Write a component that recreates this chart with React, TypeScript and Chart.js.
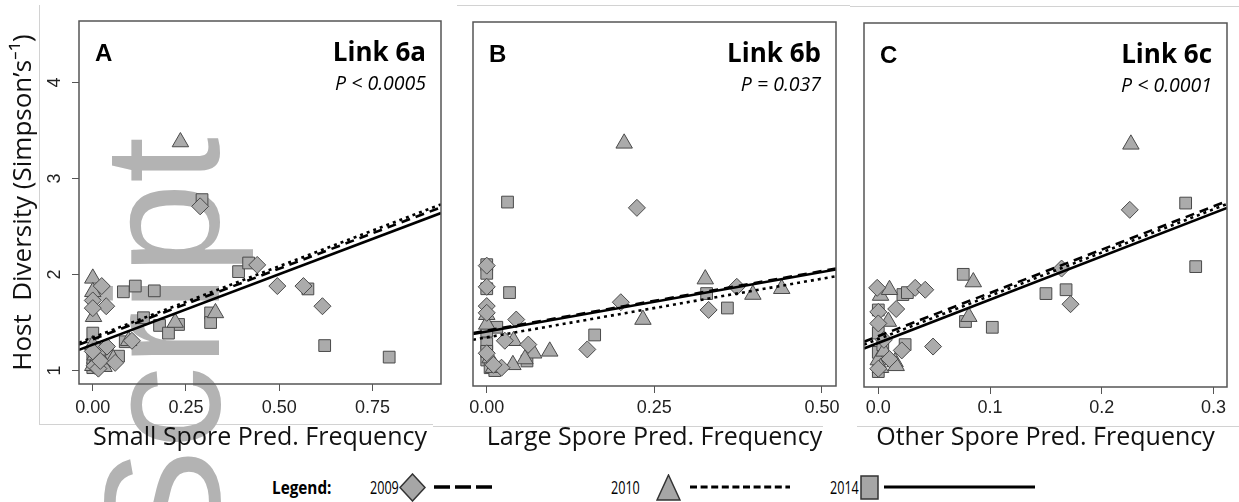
import React, { useEffect, useRef } from "react";
import { Chart, registerables } from "chart.js";

Chart.register(...registerables);

// ---------------- data ----------------
const yTicks = [1, 2, 3, 4];
const yTickLabels = ["1", "2", "3", "4"];
const yMin = 0.86;
const yMax = 4.64;

// Panel A — small spore
const xTicksA = [0, 0.25, 0.5, 0.75];
const xTickLabelsA = ["0.00", "0.25", "0.50", "0.75"];
const xRangeA = [-0.037, 0.934];
const aDiamondX = [0.288, 0.441, 0.495, 0.565, 0.616, 0.024, 0.036, 0.0, 0.0, 0.105, 0.038, 0.005, 0.015, 0.02, 0.06, 0.0];
const aDiamondY = [2.71, 2.1, 1.88, 1.88, 1.67, 1.88, 1.67, 1.73, 1.65, 1.31, 1.25, 1.05, 1.02, 1.1, 1.08, 1.2];
const aTriangleX = [0.235, 0.329, 0.221, 0.0, 0.0, 0.002, 0.006, 0.047, 0.028, 0.0, 0.03, 0.055, 0.0, 0.014, 0.096];
const aTriangleY = [3.38, 1.6, 1.5, 1.96, 1.82, 1.56, 1.16, 1.16, 1.09, 1.05, 1.04, 1.12, 1.27, 1.21, 1.31];
const aSquareX = [0.293, 0.391, 0.418, 0.577, 0.622, 0.795, 0.316, 0.316, 0.23, 0.179, 0.203, 0.082, 0.114, 0.165, 0.0, 0.136, 0.087, 0.069, 0.0, 0.02, 0.0, 0.01];
const aSquareY = [2.78, 2.03, 2.12, 1.85, 1.26, 1.14, 1.6, 1.5, 1.48, 1.47, 1.39, 1.82, 1.88, 1.83, 1.39, 1.55, 1.3, 1.15, 1.03, 1.06, 1.13, 1.22];
const aLine2009 = [1.27, 2.7];
const aLine2010 = [1.29, 2.73];
const aLine2014 = [1.215, 2.64];

// Panel B — large spore
const xTicksB = [0, 0.25, 0.5];
const xTickLabelsB = ["0.00", "0.25", "0.50"];
const xRangeB = [-0.0205, 0.521];
const bDiamondX = [0.224, 0.0, 0.0, 0.0, 0.0, 0.044, 0.027, 0.062, 0.022, 0.15, 0.2, 0.331, 0.373, 0.01, 0.0];
const bDiamondY = [2.71, 2.11, 1.89, 1.69, 1.62, 1.55, 1.33, 1.29, 1.05, 1.24, 1.73, 1.65, 1.89, 1.08, 1.2];
const bTriangleX = [0.205, 0.0, 0.0, 0.04, 0.005, 0.07, 0.057, 0.039, 0.094, 0.233, 0.326, 0.397, 0.44, 0.01];
const bTriangleY = [3.38, 1.6, 1.5, 1.33, 1.15, 1.2, 1.14, 1.08, 1.22, 1.55, 1.97, 1.81, 1.87, 1.05];
const bSquareX = [0.031, 0.0, 0.0, 0.0, 0.034, 0.015, 0.0, 0.0, 0.0, 0.005, 0.161, 0.328, 0.359, 0.06, 0.012, 0.0];
const bSquareY = [2.77, 2.12, 2.03, 1.87, 1.83, 1.47, 1.43, 1.3, 1.13, 1.05, 1.39, 1.82, 1.67, 1.12, 1.02, 1.22];
const bLine2009 = [1.41, 2.08];
const bLine2010 = [1.34, 2.0];
const bLine2014 = [1.4, 2.07];

// Panel C — other spore
const xTicksC = [0, 0.1, 0.2, 0.3];
const xTickLabelsC = ["0.0", "0.1", "0.2", "0.3"];
const xRangeC = [-0.0128, 0.312];
const cDiamondX = [0.225, 0.164, 0.172, 0.049, -0.001, 0.033, 0.042, 0.0, 0.016, 0.0, 0.021, 0.0, 0.005, 0.01];
const cDiamondY = [2.7, 2.09, 1.72, 1.28, 1.89, 1.89, 1.87, 1.64, 1.67, 1.52, 1.24, 1.05, 1.35, 1.15];
const cTriangleX = [0.226, 0.085, 0.081, 0.002, 0.01, 0.009, 0.015, 0.016, 0.0, 0.005, 0.002];
const cTriangleY = [3.38, 1.95, 1.59, 1.81, 1.87, 1.54, 1.12, 1.08, 1.14, 1.23, 1.06];
const cSquareX = [0.275, 0.284, 0.076, 0.15, 0.168, 0.078, 0.102, 0.022, 0.026, 0.0, 0.0, 0.024, 0.0, 0.0, 0.004];
const cSquareY = [2.77, 2.11, 2.03, 1.83, 1.87, 1.54, 1.48, 1.82, 1.84, 1.66, 1.42, 1.3, 1.22, 1.02, 1.3];
const cLine2009 = [1.33, 2.79];
const cLine2010 = [1.3, 2.76];
const cLine2014 = [1.26, 2.72];

const yAxisTitle = "Host  Diversity (Simpson\u2019s\u207B\u00B9)";
const xTitles = ["Small Spore Pred. Frequency", "Large Spore Pred. Frequency", "Other Spore Pred. Frequency"];
const panelLetters = ["A", "B", "C"];
const panelLinks = ["Link 6a", "Link 6b", "Link 6c"];
const panelPvals = ["P < 0.0005", "P = 0.037", "P < 0.0001"];
const legendYears = ["2009", "2010", "2014"];

// ---------------- styling / layout ----------------
const MARK_FILL = "#ababab";
const MARK_EDGE = "#4a4a4a";
const TICK_FONT = "'Liberation Sans', Arial, sans-serif";
const TITLE_FONT = "'Open Sans', sans-serif";
const CANVAS_H = 460;
const X_AXIS_BOTTOM = 455;

type PanelDef = {
  cx: number; cw: number;
  area: { l: number; t: number; r: number; b: number };
  xRange: number[]; xTicks: number[]; xLabels: string[];
  diamonds: [number[], number[]]; triangles: [number[], number[]]; squares: [number[], number[]];
  lines: number[][];
  showY: boolean;
  idx: number;
};

const panels: PanelDef[] = [
  { cx: 0, cw: 460, area: { l: 79, t: 21, r: 441, b: 384 }, xRange: xRangeA, xTicks: xTicksA, xLabels: xTickLabelsA,
    diamonds: [aDiamondX, aDiamondY], triangles: [aTriangleX, aTriangleY], squares: [aSquareX, aSquareY],
    lines: [aLine2009, aLine2010, aLine2014], showY: true, idx: 0 },
  { cx: 450, cw: 400, area: { l: 473, t: 22, r: 836, b: 386 }, xRange: xRangeB, xTicks: xTicksB, xLabels: xTickLabelsB,
    diamonds: [bDiamondX, bDiamondY], triangles: [bTriangleX, bTriangleY], squares: [bSquareX, bSquareY],
    lines: [bLine2009, bLine2010, bLine2014], showY: false, idx: 1 },
  { cx: 850, cw: 389, area: { l: 864, t: 23, r: 1227, b: 387 }, xRange: xRangeC, xTicks: xTicksC, xLabels: xTickLabelsC,
    diamonds: [cDiamondX, cDiamondY], triangles: [cTriangleX, cTriangleY], squares: [cSquareX, cSquareY],
    lines: [cLine2009, cLine2010, cLine2014], showY: false, idx: 2 },
];

const pts = (xs: number[], ys: number[]) => xs.map((x, i) => ({ x, y: ys[i] }));

function Panel({ p }: { p: PanelDef }) {
  const ref = useRef<HTMLCanvasElement>(null);
  useEffect(() => {
    if (!ref.current) return;
    const a = p.area;
    const padLeft = p.showY ? 0 : a.l - p.cx;
    const yAxisW = p.showY ? a.l - p.cx : 0;
    const padRight = p.cx + p.cw - a.r;
    const padBottom = CANVAS_H - X_AXIS_BOTTOM;
    const xAxisH = X_AXIS_BOTTOM - a.b;
    const tickPad = 390.5 - a.b;

    const lineDs = (vals: number[], dash: number[]) => ({
      type: "line" as const,
      data: pts(p.xRange, vals),
      showLine: true,
      borderColor: "#000",
      borderWidth: 2.6,
      borderDash: dash,
      pointRadius: 0,
      fill: false,
    });
    const markDs = (d: [number[], number[]], style: string, r: number) => ({
      type: "scatter" as const,
      data: pts(d[0], d[1]),
      pointStyle: style,
      pointRadius: r,
      backgroundColor: MARK_FILL,
      borderColor: MARK_EDGE,
      borderWidth: 1,
    });

    const framePlugin = {
      id: "frame",
      afterDatasetsDraw(chart: any) {
        const { ctx, chartArea: c } = chart;
        ctx.save();
        ctx.strokeStyle = "#555";
        ctx.lineWidth = 1.5;
        ctx.strokeRect(c.left, c.top, c.right - c.left, c.bottom - c.top);
        ctx.restore();
      },
    };
    // rotated (R-style) y tick labels, placed with the y scale
    const yLabelPlugin = {
      id: "yLabels",
      afterDraw(chart: any) {
        if (!p.showY) return;
        const s = chart.scales.y;
        const ctx = chart.ctx;
        ctx.save();
        ctx.font = "18px 'Liberation Sans', Arial, sans-serif";
        ctx.fillStyle = "#222";
        ctx.textAlign = "center";
        ctx.textBaseline = "middle";
        yTicks.forEach((v, i) => {
          ctx.save();
          ctx.translate(s.right - 24, s.getPixelForValue(v));
          ctx.rotate(-Math.PI / 2);
          ctx.fillText(yTickLabels[i], 0, 0);
          ctx.restore();
        });
        ctx.restore();
      },
    };
    const textPlugin = {
      id: "panelText",
      afterDraw(chart: any) {
        const { ctx, chartArea: c } = chart;
        ctx.save();
        ctx.fillStyle = "#000";
        ctx.textBaseline = "alphabetic";
        ctx.textAlign = "left";
        ctx.font = "bold 24px 'Liberation Sans', Arial, sans-serif";
        ctx.fillText(panelLetters[p.idx], c.left + 16, c.top + 40);
        ctx.textAlign = "right";
        ctx.font = "bold 26px 'Open Sans', sans-serif";
        ctx.fillText(panelLinks[p.idx], c.right - 15, c.top + 40);
        ctx.font = "italic 19.5px 'Open Sans', sans-serif";
        ctx.fillText(panelPvals[p.idx], c.right - 15, c.top + 69);
        ctx.restore();
      },
    };

    const chart = new Chart(ref.current, {
      type: "scatter",
      data: {
        datasets: [
          lineDs(p.lines[0], [9, 6]),
          lineDs(p.lines[1], [3, 4]),
          lineDs(p.lines[2], []),
          markDs(p.diamonds, "rectRot", 8.5),
          markDs(p.triangles, "triangle", 9.5),
          markDs(p.squares, "rect", 8.3),
        ] as any,
      },
      options: {
        responsive: false,
        animation: false,
        events: [],
        layout: { padding: { left: padLeft, right: padRight, top: a.t, bottom: padBottom } },
        plugins: { legend: { display: false }, tooltip: { enabled: false } },
        scales: {
          x: {
            type: "linear",
            bounds: "data",
            min: p.xRange[0],
            max: p.xRange[1],
            afterBuildTicks: (s: any) => { s.ticks = p.xTicks.map((v) => ({ value: v })); },
            afterFit: (s: any) => { s.height = xAxisH; },
            ticks: {
              callback: (_v: any, i: number) => p.xLabels[i],
              font: { family: TICK_FONT, size: 18 },
              color: "#222",
              padding: tickPad,
              maxRotation: 0,
              autoSkip: false,
            },
            grid: { display: true, drawOnChartArea: false, drawTicks: true, tickLength: 7, color: "#555", lineWidth: 1 },
            border: { display: false },
            title: {
              display: true,
              text: xTitles[p.idx],
              font: { family: TITLE_FONT, size: 25 },
              color: "#111",
              padding: { top: 0, bottom: 2.5 },
            },
          },
          y: {
            type: "linear",
            display: p.showY,
            bounds: "data",
            min: yMin,
            max: yMax,
            afterBuildTicks: (s: any) => { s.ticks = yTicks.map((v) => ({ value: v })); },
            afterFit: (s: any) => { s.width = yAxisW; },
            ticks: { display: false, autoSkip: false },
            grid: { display: true, drawOnChartArea: false, drawTicks: true, tickLength: 7, color: "#555", lineWidth: 1 },
            border: { display: false },
            title: {
              display: true,
              text: yAxisTitle,
              font: { family: TITLE_FONT, size: 26 },
              color: "#111",
              padding: { top: 8.4, bottom: 0 },
            },
          },
        },
      } as any,
      plugins: [framePlugin, yLabelPlugin, textPlugin],
    });
    return () => chart.destroy();
  }, [p]);

  return (
    <canvas
      ref={ref}
      width={p.cw}
      height={CANVAS_H}
      style={{ position: "absolute", left: p.cx, top: 0, width: p.cw, height: CANVAS_H }}
    />
  );
}

function Legend() {
  const textStyle: React.CSSProperties = {
    position: "absolute", top: 474, height: 26, lineHeight: "26px", fontSize: 18,
    fontFamily: TITLE_FONT, color: "#000", whiteSpace: "nowrap",
    transform: "scaleX(0.7)", transformOrigin: "0 50%",
  };
  return (
    <>
      <div style={{ ...textStyle, left: 272, fontSize: 18, fontWeight: 700, transform: "scaleX(0.85)" }}>Legend:</div>
      <div style={{ ...textStyle, left: 370 }}>{legendYears[0]}</div>
      <svg style={{ position: "absolute", left: 399, top: 473 }} width={27} height={29}>
        <polygon points="13.5,1 26,14.5 13.5,28 1,14.5" fill="#a6a6a6" stroke="#333" strokeWidth={1.5} />
      </svg>
      <svg style={{ position: "absolute", left: 434, top: 484 }} width={60} height={6}>
        <line x1={0} y1={3} x2={58} y2={3} stroke="#000" strokeWidth={3.5} strokeDasharray="16 5" />
      </svg>
      <div style={{ ...textStyle, left: 611 }}>{legendYears[1]}</div>
      <svg style={{ position: "absolute", left: 656, top: 474 }} width={25} height={27}>
        <polygon points="12.5,1 24,26 1,26" fill="#a6a6a6" stroke="#333" strokeWidth={1.5} />
      </svg>
      <svg style={{ position: "absolute", left: 690, top: 484 }} width={102} height={6}>
        <line x1={0} y1={3} x2={100} y2={3} stroke="#000" strokeWidth={3} strokeDasharray="7 3.6" />
      </svg>
      <div style={{ ...textStyle, left: 830 }}>{legendYears[2]}</div>
      <svg style={{ position: "absolute", left: 860, top: 475 }} width={19} height={25}>
        <rect x={1} y={1} width={17} height={23} fill="#a6a6a6" stroke="#333" strokeWidth={1.5} />
      </svg>
      <svg style={{ position: "absolute", left: 884, top: 484 }} width={152} height={6}>
        <line x1={0} y1={3} x2={151} y2={3} stroke="#000" strokeWidth={3} />
      </svg>
    </>
  );
}

export default function App() {
  const rule = (l: number, t: number, w: number, h: number) => (
    <div style={{ position: "absolute", left: l, top: t, width: w, height: h, background: "#d2d2d2" }} />
  );
  return (
    <div style={{ position: "absolute", left: 0, top: 0, width: 1239, height: 502, overflow: "hidden", background: "#fff" }}>
      {rule(39, 5, 1, 420)}
      {rule(39, 424, 394, 1)}
      {rule(433, 426, 390, 1)}
      {rule(857, 426, 382, 1)}
      {rule(457, 5, 393, 1)}
      {rule(850, 6, 389, 1)}
      <div
        style={{
          position: "absolute", left: 80, top: 559, transformOrigin: "0 0", transform: "rotate(-90deg)",
          fontFamily: "'Liberation Sans', Arial, sans-serif", fontSize: 165, lineHeight: "165px",
          color: "#b3b3b3", whiteSpace: "nowrap",
        }}
      >
        Script
      </div>
      {panels.map((p) => <Panel key={p.idx} p={p} />)}
      <Legend />
    </div>
  );
}
